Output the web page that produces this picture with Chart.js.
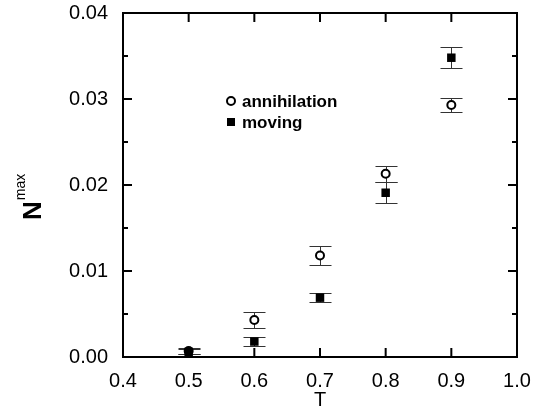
<!DOCTYPE html>
<html>
<head>
<meta charset="utf-8">
<script src="https://cdn.jsdelivr.net/npm/chart.js@4.4.0/dist/chart.umd.min.js"></script>
<style>
  html, body { margin: 0; padding: 0; background: #fff; }
  canvas { display: block; }
</style>
</head>
<body>
<canvas id="chart" width="541" height="420"></canvas>
<script>
// temperatures where both runs were measured
const temps = [0.5, 0.6, 0.7, 0.8, 0.9];

// N^max of the annihilation run and its error
const annihilation    = [0.0007, 0.0043, 0.0118, 0.0213, 0.0293];
const annihilationErr = [0.0003, 0.0009, 0.0011, 0.0009, 0.0008];

// N^max of the moving run and its error
const moving    = [0.0006, 0.0018, 0.0069, 0.0191, 0.0348];
const movingErr = [0.0003, 0.0005, 0.0005, 0.0012, 0.0012];

// axis ticks
const xTicks = [0.4, 0.5, 0.6, 0.7, 0.8, 0.9, 1.0];
const yTicks = [0.00, 0.01, 0.02, 0.03, 0.04];
const yMinorTicks = [0.005, 0.015, 0.025, 0.035];

const FONT = "'Liberation Sans', Arial, sans-serif";
Chart.defaults.color = '#000';
Chart.defaults.font.family = FONT;

// error bars, drawn under the markers
const errorBars = {
  id: 'errorBars',
  beforeDatasetsDraw(chart) {
    const {ctx, scales: {x, y}} = chart;
    ctx.save();
    ctx.strokeStyle = '#333';
    ctx.lineWidth = 1;
    chart.data.datasets.forEach(ds => {
      ds.data.forEach((p, i) => {
        const px = Math.round(x.getPixelForValue(p.x)) + 0.5;
        const hi = Math.round(y.getPixelForValue(p.y + ds.errors[i])) + 0.5;
        const lo = Math.round(y.getPixelForValue(p.y - ds.errors[i])) + 0.5;
        ctx.beginPath();
        ctx.moveTo(px, hi); ctx.lineTo(px, lo);
        ctx.moveTo(px - 11, hi); ctx.lineTo(px + 11, hi);
        ctx.moveTo(px - 11, lo); ctx.lineTo(px + 11, lo);
        ctx.stroke();
      });
    });
    ctx.restore();
  }
};

// box round the plot with inward ticks on all four sides
const frame = {
  id: 'frame',
  afterDraw(chart) {
    const {ctx, chartArea: a, scales: {x, y}} = chart;
    ctx.save();
    ctx.strokeStyle = '#000';
    ctx.lineWidth = 2;
    ctx.strokeRect(a.left, a.top, a.right - a.left, a.bottom - a.top);
    ctx.beginPath();
    xTicks.slice(1, -1).forEach(v => {
      const px = x.getPixelForValue(v);
      ctx.moveTo(px, a.bottom); ctx.lineTo(px, a.bottom - 9);
      ctx.moveTo(px, a.top); ctx.lineTo(px, a.top + 9);
    });
    yTicks.slice(1, -1).forEach(v => {
      const py = y.getPixelForValue(v);
      ctx.moveTo(a.left, py); ctx.lineTo(a.left + 9, py);
      ctx.moveTo(a.right, py); ctx.lineTo(a.right - 9, py);
    });
    yMinorTicks.forEach(v => {
      const py = y.getPixelForValue(v);
      ctx.moveTo(a.left, py); ctx.lineTo(a.left + 5, py);
      ctx.moveTo(a.right, py); ctx.lineTo(a.right - 5, py);
    });
    ctx.stroke();
    ctx.restore();
  }
};

// legend inside the plot
const insideLegend = {
  id: 'insideLegend',
  afterDraw(chart) {
    const {ctx} = chart;
    ctx.save();
    ctx.font = 'bold 17px ' + FONT;
    ctx.textBaseline = 'alphabetic';
    ctx.textAlign = 'left';
    chart.data.datasets.forEach((ds, i) => {
      const cy = 101 + i * 21;
      if (ds.pointStyle === 'circle') {
        ctx.beginPath();
        ctx.arc(231, cy, 4, 0, Math.PI * 2);
        ctx.fillStyle = '#fff';
        ctx.fill();
        ctx.lineWidth = 2;
        ctx.strokeStyle = '#000';
        ctx.stroke();
      } else {
        ctx.fillStyle = '#000';
        ctx.fillRect(227, cy - 4, 8, 8);
      }
      ctx.fillStyle = '#000';
      ctx.fillText(ds.label, 242, cy + 6);
    });
    ctx.restore();
  }
};

// rotated y title N^max
const yTitle = {
  id: 'yTitle',
  afterDraw(chart) {
    const {ctx} = chart;
    ctx.save();
    ctx.translate(41, 220);
    ctx.rotate(-Math.PI / 2);
    ctx.fillStyle = '#000';
    ctx.textAlign = 'left';
    ctx.textBaseline = 'alphabetic';
    ctx.font = 'bold 26px ' + FONT;
    ctx.fillText('N', 0, 0);
    const w = ctx.measureText('N').width;
    ctx.font = '14px ' + FONT;
    ctx.fillText('max', w + 1, -16);
    ctx.restore();
  }
};

new Chart(document.getElementById('chart'), {
  type: 'scatter',
  data: {
    datasets: [
      {
        label: 'annihilation',
        data: temps.map((t, i) => ({x: t, y: annihilation[i]})),
        errors: annihilationErr,
        order: 2,
        pointStyle: 'circle',
        pointRadius: 4,
        borderWidth: 2,
        borderColor: '#000',
        backgroundColor: '#fff'
      },
      {
        label: 'moving',
        data: temps.map((t, i) => ({x: t, y: moving[i]})),
        errors: movingErr,
        order: 1,
        pointStyle: 'rect',
        pointRadius: 6,
        borderWidth: 0,
        borderColor: '#000',
        backgroundColor: '#000'
      }
    ]
  },
  options: {
    responsive: false,
    animation: false,
    layout: {padding: {top: 13, right: 24, left: 0, bottom: 0}},
    plugins: {legend: {display: false}, tooltip: {enabled: false}},
    scales: {
      x: {
        type: 'linear',
        min: 0.4,
        max: 1.0,
        afterBuildTicks: s => { s.ticks = xTicks.map(v => ({value: v})); },
        ticks: {padding: 12, maxRotation: 0, font: {size: 20}, callback: v => v.toFixed(1)},
        grid: {display: false, drawTicks: false},
        border: {display: false},
        title: {display: true, text: 'T', font: {size: 20}, padding: {top: 0, bottom: 8}},
        afterFit: s => { s.height = 63; s.paddingLeft = 0; s.paddingRight = 0; }
      },
      y: {
        min: 0,
        max: 0.04,
        afterBuildTicks: s => { s.ticks = yTicks.map(v => ({value: v})); },
        ticks: {padding: 15, font: {size: 20}, callback: v => v.toFixed(2)},
        grid: {display: false, drawTicks: false},
        border: {display: false},
        afterFit: s => { s.width = 123; s.paddingTop = 0; s.paddingBottom = 0; }
      }
    }
  },
  plugins: [errorBars, frame, insideLegend, yTitle]
});
</script>
</body>
</html>
